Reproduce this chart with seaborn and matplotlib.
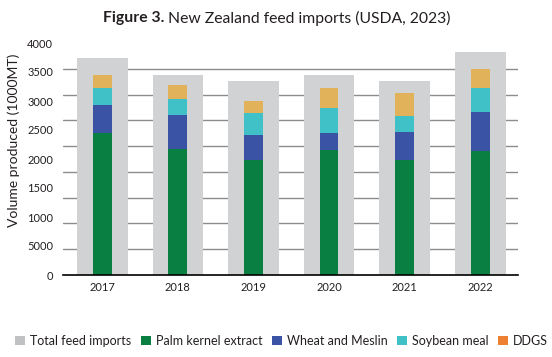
import numpy as np
import pandas as pd
import matplotlib
matplotlib.use("Agg")
import matplotlib.pyplot as plt
from matplotlib.patches import Patch
import seaborn as sns

years = ["2017", "2018", "2019", "2020", "2021", "2022"]
total_feed = [3740, 3450, 3340, 3450, 3340, 3840]
palm_kernel = [2440, 2170, 1980, 2160, 1980, 2130]
wheat_meslin = [490, 590, 430, 290, 480, 680]
soybean_meal = [290, 280, 380, 430, 290, 410]
ddgs = [220, 240, 210, 350, 380, 330]

ytick_vals = [0, 500, 1000, 1500, 2000, 2500, 3000, 3500, 4000]
ytick_labels = ["0", "5000", "1000", "1500", "2000", "2500", "3000", "3500", "4000"]

series_names = ["Total feed imports", "Palm kernel extract", "Wheat and Meslin", "Soybean meal", "DDGS"]
bar_colors = ["#d1d2d4", "#0a7f42", "#3a53a4", "#3fc1c7", "#e2b25a"]
legend_colors = ["#bfc1c2", "#0a7f42", "#3a53a4", "#3fc1c7", "#ee8034"]

df = pd.DataFrame({
    "Year": years,
    "Total": total_feed,
    "Palm": palm_kernel,
    "Wheat": wheat_meslin,
    "Soy": soybean_meal,
    "DDGS": ddgs,
})
# cumulative tops for the stacked look (drawn tallest first)
df["top_palm"] = df["Palm"]
df["top_wheat"] = df["top_palm"] + df["Wheat"]
df["top_soy"] = df["top_wheat"] + df["Soy"]
df["top_ddgs"] = df["top_soy"] + df["DDGS"]

sns.set_theme(style="white")
plt.rcParams["font.family"] = ["Lato", "DejaVu Sans"]
text_col = "#231f20"

fig = plt.figure(figsize=(5.52, 3.57), dpi=100)
ax = fig.add_axes([63 / 552, 1 - 275 / 357, (518 - 63) / 552, (275 - 43) / 357])

sns.barplot(data=df, x="Year", y="Total", order=years, color=bar_colors[0],
            width=0.67, saturation=1, linewidth=0, edgecolor="none", ax=ax)
for col, c in zip(["top_ddgs", "top_soy", "top_wheat", "top_palm"],
                  [bar_colors[4], bar_colors[3], bar_colors[2], bar_colors[1]]):
    sns.barplot(data=df, x="Year", y=col, order=years, color=c,
                width=0.25, saturation=1, linewidth=0, edgecolor="none", ax=ax)

ax.set_xlim(-0.52, 5.5)
ax.set_ylim(0, 4000)
ax.set_yticks(ytick_vals)
ax.set_yticklabels(ytick_labels)
ax.set_yticks(np.linspace(0, 4000, 10), minor=True)
ax.grid(False)
ax.grid(True, axis="y", which="minor", color="#8c8c8c", linewidth=1.0)
ax.set_axisbelow(True)
ax.tick_params(axis="y", which="both", length=0, pad=7, labelsize=8, labelcolor=text_col)
ax.tick_params(axis="x", length=0, pad=5, labelsize=8, labelcolor=text_col)
ax.set_xlabel("")
ax.set_ylabel("")
for s in ["left", "right", "top"]:
    ax.spines[s].set_visible(False)
ax.spines["bottom"].set_color("#000000")
ax.spines["bottom"].set_linewidth(1.2)

fig.text(14 / 552, 1 - 140 / 357, "Volume produced (1000MT)", rotation=90,
         ha="center", va="center", fontsize=10, color=text_col)

fig.text(164 / 552, 1 - 18 / 357, "Figure 3.", ha="right", va="center",
         fontsize=11.3, fontweight="bold", color=text_col)
fig.text(168 / 552, 1 - 18 / 357, "New Zealand feed imports (USDA, 2023)", ha="left",
         va="center", fontsize=11.3, color=text_col)

handles = [Patch(facecolor=c, edgecolor="none") for c in legend_colors]
fig.legend(handles, series_names, loc="center", bbox_to_anchor=(0.51, 1 - 341 / 357),
           ncol=5, frameon=False, fontsize=9, handlelength=0.8, handleheight=0.8,
           handletextpad=0.4, columnspacing=0.75, labelcolor=text_col)

fig.savefig("out.png", dpi=100)
